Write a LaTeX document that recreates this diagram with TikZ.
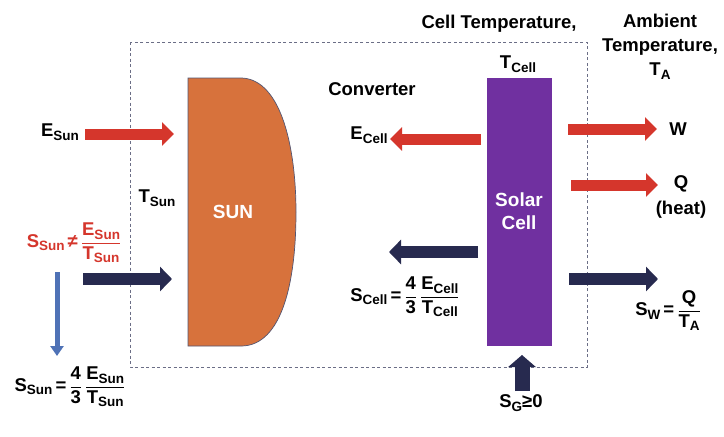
\documentclass[tikz,border=0pt]{standalone}
\usepackage{amsmath}
\usepackage{fontspec}
\setmainfont{Liberation Sans}
\usetikzlibrary{arrows.meta}
\definecolor{redA}{HTML}{D5362C}
\definecolor{navyA}{HTML}{272A4F}
\definecolor{purpA}{HTML}{7030A0}
\definecolor{sunA}{HTML}{D7723C}
\definecolor{blueA}{HTML}{4F72B6}
\definecolor{boxA}{HTML}{6B6E86}
\newcommand\sbs[1]{\raisebox{-0.35ex}{\fontsize{13.5}{14}\selectfont #1}}
\newcommand\frc[2]{\ensuremath{\genfrac{}{}{0.9pt}{0}{\hbox{#1}}{\hbox{#2}}}}
\begin{document}
\begin{tikzpicture}[x=1pt,y=-1pt,
  lbl/.style={font=\fontsize{18.5}{21}\selectfont\bfseries, inner sep=0pt},
  wlbl/.style={lbl, text=white, font=\fontsize{19}{23}\selectfont\bfseries},
  redarr/.style={draw=redA, line width=11pt, -{Triangle[width=23pt,length=12pt]}},
  navyarr/.style={draw=navyA, line width=12.5pt, -{Triangle[width=24pt,length=12pt]}},
  bluearr/.style={draw=blueA, line width=5pt, -{Triangle[width=13pt,length=10pt]}},
  uparr/.style={draw=navyA, line width=15pt, -{Triangle[width=27pt,length=12pt]}}]
\useasboundingbox (0,0) rectangle (724,437);
\fill[white] (0,0) rectangle (724,437);
% converter box
\draw[boxA, dashed, line width=0.8pt, dash pattern=on 3pt off 2.5pt] (130,42) rectangle (587,367);
% sun
\draw[fill=sunA, draw=navyA!80, line width=0.7pt] (188,78) -- (242,78)
  .. controls (282,80) and (296,150) .. (296,212)
  .. controls (296,282) and (282,345) .. (242,346) -- (188,346) -- cycle;
\node[wlbl] (sun) at (233,212) {SUN};
% solar cell
\node[fill=purpA, minimum width=65pt, minimum height=268pt, inner sep=0pt] (cell) at (519.5,212) {};
\node[wlbl, align=center] (celltxt) at (519,211) {Solar\\Cell};
% labels
\node[lbl] (celltemp) at (499,24) {Cell Temperature,};
\node[lbl, align=center, font=\fontsize{18.5}{24}\selectfont\bfseries] (amb) at (660,47) {Ambient\\Temperature,\\T\sbs{A}};
\node[lbl] (tcell) at (518,64) {T\sbs{Cell}};
\node[lbl] (conv) at (372,89) {Converter};
\node[lbl] (ecell) at (369,135) {E\sbs{Cell}};
\node[lbl] (w) at (678,129) {W};
\node[lbl, align=center, font=\fontsize{18.5}{26}\selectfont\bfseries] (q) at (681,197) {Q\\(heat)};
\node[lbl] (scell) at (405,297) {S\sbs{Cell}\,=\,\frc{4}{3}\,\frc{E\sbs{Cell}}{T\sbs{Cell}}};
\node[lbl] (sw) at (668,311) {S\sbs{W}\,=\,\frc{Q}{T\sbs{A}}};
\node[lbl] (sg) at (521,403) {S\sbs{G}≥0};
\node[lbl] (esun) at (60,132) {E\sbs{Sun}};
\node[lbl] (tsun) at (157,198) {T\sbs{Sun}};
\node[lbl, text=redA] (sneq) at (74,243) {S\sbs{Sun}\,≠\,\frc{E\sbs{Sun}}{T\sbs{Sun}}};
\node[lbl] (seq) at (70,387) {S\sbs{Sun}\,=\,\frc{4}{3}\,\frc{E\sbs{Sun}}{T\sbs{Sun}}};
% arrow end points
\coordinate (a1s) at (85,134);  \coordinate (a1e) at (174,134);
\coordinate (a2s) at (83,279);  \coordinate (a2e) at (172,279);
\coordinate (a3s) at (57,272);  \coordinate (a3e) at (57,356);
\coordinate (a4s) at (481,139); \coordinate (a4e) at (390,139);
\coordinate (a5s) at (478,252); \coordinate (a5e) at (389,252);
\coordinate (a6s) at (568,129); \coordinate (a6e) at (657,129);
\coordinate (a7s) at (571,185); \coordinate (a7e) at (658,185);
\coordinate (a8s) at (569,279); \coordinate (a8e) at (658,279);
\coordinate (a9s) at (522,391); \coordinate (a9e) at (522,355);
\draw[redarr] (a1s) -- (a1e);
\draw[navyarr] (a2s) -- (a2e);
\draw[bluearr] (a3s) -- (a3e);
\draw[redarr] (a4s) -- (a4e);
\draw[navyarr] (a5s) -- (a5e);
\draw[redarr] (a6s) -- (a6e);
\draw[redarr] (a7s) -- (a7e);
\draw[navyarr] (a8s) -- (a8e);
\draw[uparr] (a9s) -- (a9e);
\end{tikzpicture}
\end{document}
